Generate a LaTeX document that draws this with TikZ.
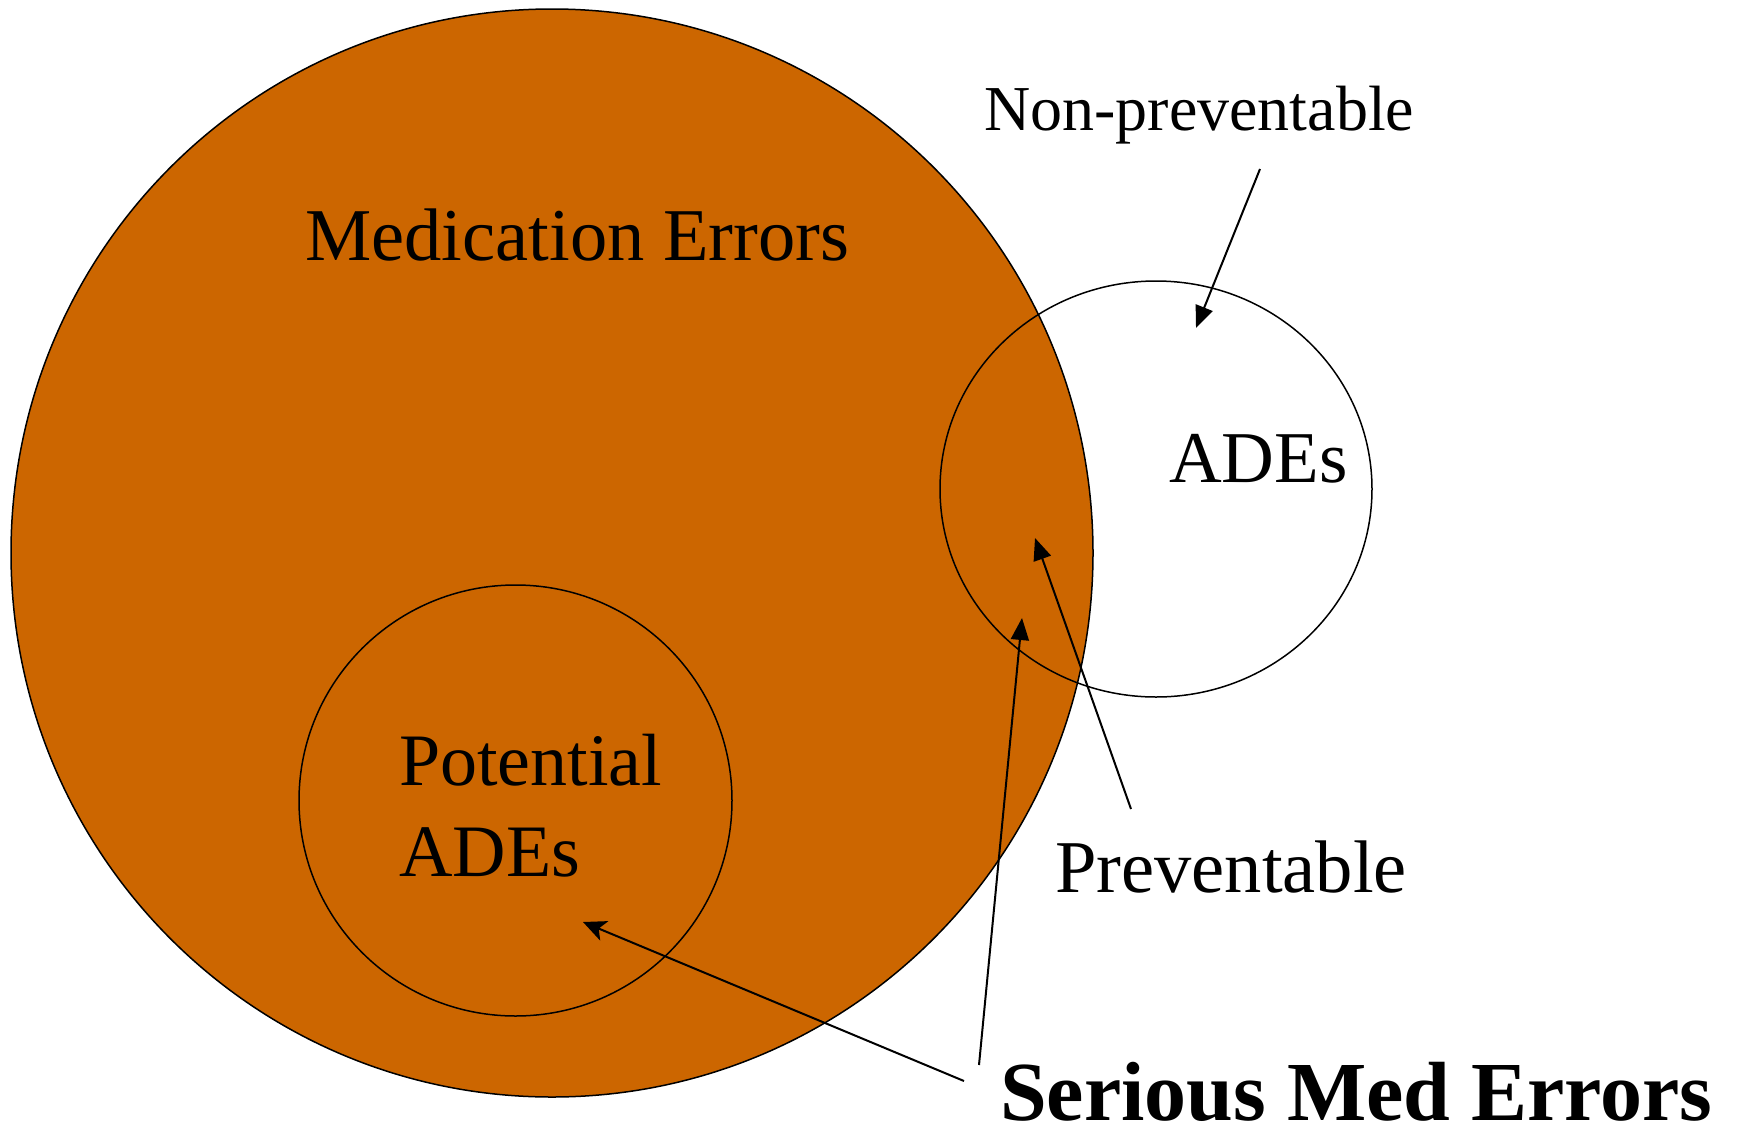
\documentclass[tikz,border=0pt]{standalone}
\usepackage{fontspec}
\setmainfont{Liberation Serif}
\usetikzlibrary{shapes.geometric,arrows.meta}
\definecolor{medorange}{RGB}{204,102,0}
\tikzset{
  x=1pt,y=-1pt,
  venn/.style={ellipse,draw=black,line width=1.5pt,inner sep=0pt},
  lbl/.style={anchor=base west,inner sep=0pt,text=black},
  ptr/.style={line width=2pt,-{Triangle[length=22pt,width=18pt]}},
  ptrs/.style={line width=2pt,-{Stealth[length=23pt,width=21pt,inset=6pt]}}
}
\begin{document}
\begin{tikzpicture}
\useasboundingbox[fill=white] (0,0) rectangle (1738,1138);
\node[venn,fill=medorange,minimum width=1082pt,minimum height=1088pt] (med) at (552,553) {};
\node[venn,minimum width=433pt,minimum height=431pt] (pot) at (515.5,800.5) {};
\node[venn,minimum width=432pt,minimum height=416pt] (ade) at (1156,489) {};
\node[lbl,font=\fontsize{74.5}{78}\selectfont] (tmed) at (305,260) {Medication Errors};
\node[lbl,font=\fontsize{64}{66}\selectfont] (tnon) at (984,130) {Non-preventable};
\node[lbl,font=\fontsize{73}{76}\selectfont] (tade) at (1169,482) {ADEs};
\node[lbl,font=\fontsize{74}{76}\selectfont] (tpot1) at (399,785) {Potential};
\node[lbl,font=\fontsize{74}{76}\selectfont] (tpot2) at (399,876) {ADEs};
\node[lbl,font=\fontsize{74.5}{76}\selectfont] (tpre) at (1055,892) {Preventable};
\node[lbl,text depth=0pt,font=\bfseries\fontsize{84}{88}\selectfont] (tser) at (1000,1120) {Serious Med Errors};
\coordinate (nonS) at (1260,169);
\coordinate (nonT) at (1196,328);
\coordinate (preS) at (1131,809);
\coordinate (preT) at (1035,538);
\coordinate (ser1S) at (979,1065);
\coordinate (ser1T) at (1022,618);
\coordinate (ser2S) at (964,1081);
\coordinate (ser2T) at (583,922);
\draw[ptr] (nonS) -- (nonT);
\draw[ptr] (preS) -- (preT);
\draw[ptr] (ser1S) -- (ser1T);
\draw[ptrs] (ser2S) -- (ser2T);
\end{tikzpicture}
\end{document}
